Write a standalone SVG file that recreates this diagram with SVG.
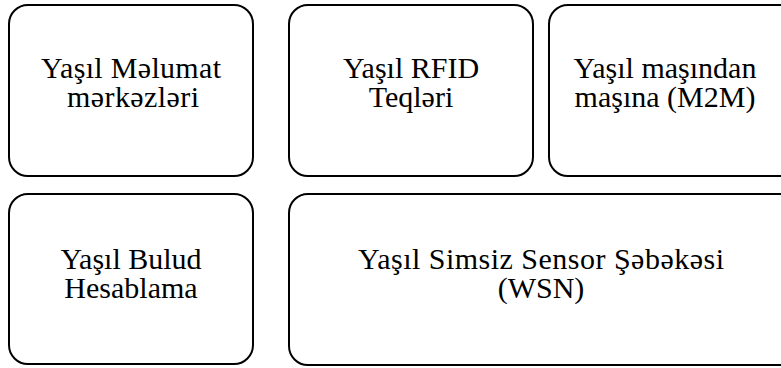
<svg xmlns="http://www.w3.org/2000/svg" width="781" height="368" viewBox="0 0 781 368">
  <style>
    .box { fill: #ffffff; stroke: #000000; stroke-width: 2; }
    .lbl { font-family: "Liberation Serif", "Times New Roman", serif; font-size: 30px; fill: #000000; text-anchor: middle; }
  </style>
  <rect width="781" height="368" fill="#ffffff"/>
  <g id="green-data-centers">
    <rect class="box" x="9" y="5" width="244" height="171" rx="19" ry="19"/>
    <text class="lbl" x="131" y="78" textLength="180" lengthAdjust="spacing">Yaşıl Məlumat</text>
    <text class="lbl" x="133" y="107" textLength="132" lengthAdjust="spacing">mərkəzləri</text>
  </g>
  <g id="green-rfid-tags">
    <rect class="box" x="289" y="5" width="244" height="171" rx="19" ry="19"/>
    <text class="lbl" x="411" y="78">Yaşıl RFID</text>
    <text class="lbl" x="411" y="107">Teqləri</text>
  </g>
  <g id="green-m2m">
    <rect class="box" x="549" y="5" width="249" height="171" rx="19" ry="19"/>
    <text class="lbl" x="665" y="78">Yaşıl maşından</text>
    <text class="lbl" x="665" y="107">maşına (M2M)</text>
  </g>
  <g id="green-cloud-computing">
    <rect class="box" x="9" y="194" width="244" height="170" rx="19" ry="19"/>
    <text class="lbl" x="131" y="269">Yaşıl Bulud</text>
    <text class="lbl" x="131" y="298">Hesablama</text>
  </g>
  <g id="green-wsn">
    <rect class="box" x="289" y="194" width="509" height="171" rx="19" ry="19"/>
    <text class="lbl" x="541" y="269" textLength="366" lengthAdjust="spacing">Yaşıl Simsiz Sensor Şəbəkəsi</text>
    <text class="lbl" x="541" y="298">(WSN)</text>
  </g>
  <g id="connectors"/>
</svg>
